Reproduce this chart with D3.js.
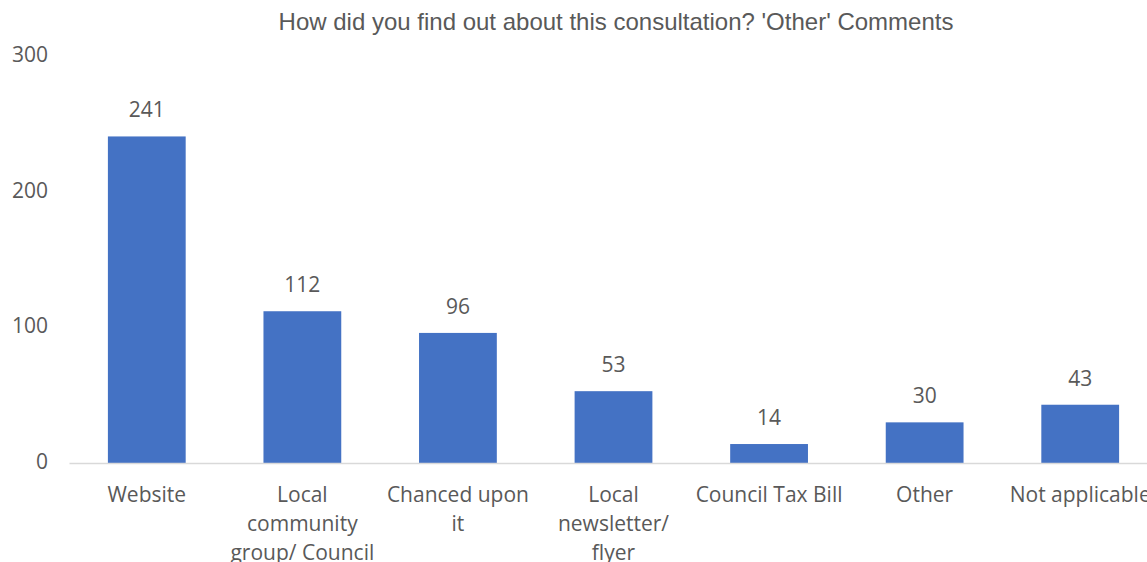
<!DOCTYPE html>
<html>
<head>
<meta charset="utf-8">
<script src="https://cdn.jsdelivr.net/npm/d3@7"></script>
<style>
  html, body { margin: 0; padding: 0; background: #ffffff; overflow: hidden; }
  svg { display: block; }
</style>
</head>
<body>
<svg id="chart" width="1147" height="562"></svg>
<script>
// Survey responses by source
const categories = [
  ["Website"],
  ["Local", "community", "group/ Council"],
  ["Chanced upon", "it"],
  ["Local", "newsletter/", "flyer"],
  ["Council Tax Bill"],
  ["Other"],
  ["Not applicable"]
];
const values = [241, 112, 96, 53, 14, 30, 43];
const yTicks = [0, 100, 200, 300];
const title = "How did you find out about this consultation? 'Other' Comments";

const svg = d3.select("#chart");
const W = 1147, H = 562;
const textColor = "#595959";
const labelFont = "'Open Sans', 'Noto Sans', sans-serif";
const labelSize = 21;

svg.append("rect").attr("width", W).attr("height", H).attr("fill", "#fff");

const keys = categories.map(c => c.join(" "));

const x = d3.scaleBand()
  .domain(keys)
  .range([69, 1158])
  .paddingInner(0.5)
  .paddingOuter(0.25);

const y = d3.scaleLinear()
  .domain([0, 300])
  .range([463, 56.5]);

// Title
svg.append("text")
  .attr("x", 616)
  .attr("y", 30)
  .attr("text-anchor", "middle")
  .attr("font-family", "'Liberation Sans', Arial, sans-serif")
  .attr("font-size", 24)
  .attr("fill", textColor)
  .text(title);

// Y axis (labels only)
const yAxis = d3.axisLeft(y).tickValues(yTicks).tickSize(0).tickPadding(0);
const gy = svg.append("g").attr("transform", "translate(48,-1.5)").call(yAxis);
gy.select(".domain").remove();
gy.selectAll("text")
  .attr("font-family", labelFont)
  .attr("font-size", labelSize)
  .attr("fill", textColor);

// Bars
svg.append("g")
  .selectAll("rect")
  .data(values)
  .join("rect")
  .attr("x", (d, i) => x(keys[i]))
  .attr("y", d => y(d))
  .attr("width", x.bandwidth())
  .attr("height", d => y(0) - y(d))
  .attr("fill", "#4472C4");

// Value labels
svg.append("g")
  .selectAll("text")
  .data(values)
  .join("text")
  .attr("x", (d, i) => x(keys[i]) + x.bandwidth() / 2)
  .attr("y", d => y(d) - 19)
  .attr("text-anchor", "middle")
  .attr("font-family", labelFont)
  .attr("font-size", labelSize)
  .attr("fill", textColor)
  .text(d => d);

// X axis baseline
const xAxis = d3.axisBottom(x).tickSize(0).tickFormat("");
const gx = svg.append("g").attr("transform", `translate(0,${y(0)})`).call(xAxis);
gx.select(".domain").attr("stroke", "#d9d9d9").attr("stroke-width", 1.3);

// Category labels (multi-line)
const catG = svg.append("g")
  .selectAll("text")
  .data(categories)
  .join("text")
  .attr("x", (d, i) => x(keys[i]) + x.bandwidth() / 2)
  .attr("y", 502)
  .attr("text-anchor", "middle")
  .attr("font-family", labelFont)
  .attr("font-size", labelSize)
  .attr("fill", textColor);
catG.each(function(lines) {
  const t = d3.select(this);
  const cx = t.attr("x");
  lines.forEach((ln, j) => {
    t.append("tspan").attr("x", cx).attr("dy", j === 0 ? 0 : 29).text(ln);
  });
});
</script>
</body>
</html>
